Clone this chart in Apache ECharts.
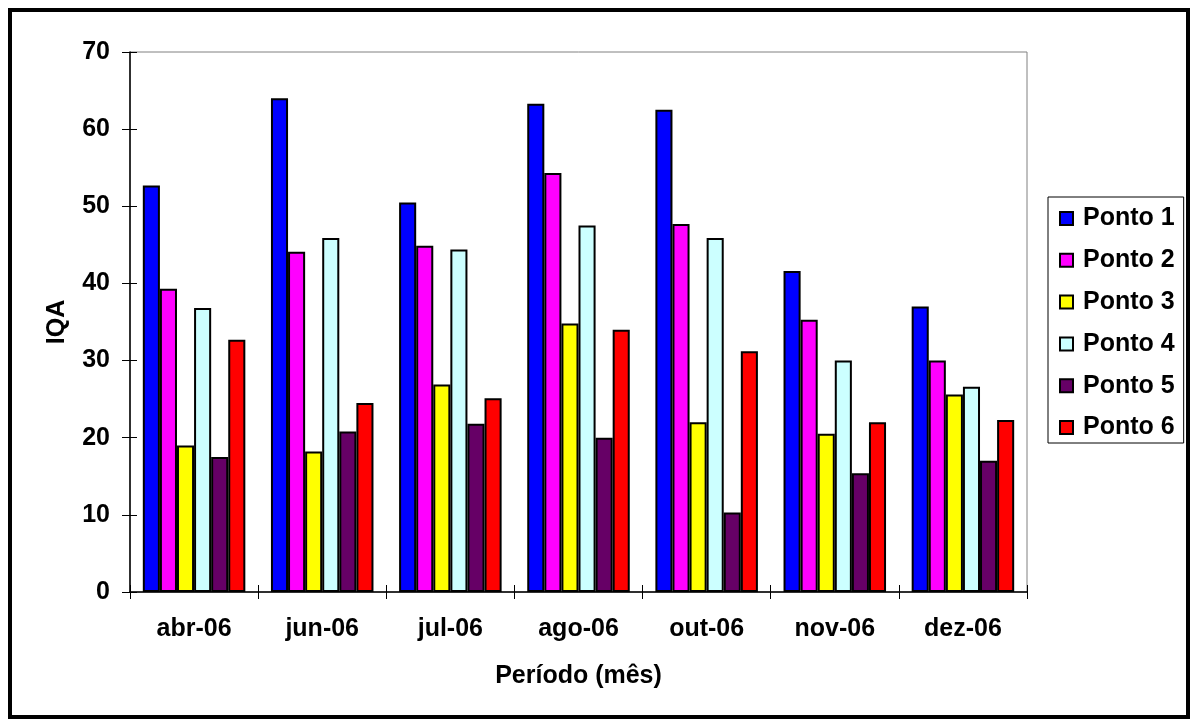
<!DOCTYPE html>
<html>
<head>
<meta charset="utf-8">
<script src="https://cdn.jsdelivr.net/npm/echarts@6/dist/echarts.min.js"></script>
<style>html,body{margin:0;padding:0;background:#fff}#c{width:1191px;height:720px}</style>
</head>
<body>
<div id="c"></div>
<script>
const categories = ['abr-06', 'jun-06', 'jul-06', 'ago-06', 'out-06', 'nov-06', 'dez-06'];
const seriesNames = ['Ponto 1', 'Ponto 2', 'Ponto 3', 'Ponto 4', 'Ponto 5', 'Ponto 6'];
const ponto1 = [52.7, 64.0, 50.5, 63.3, 62.5, 41.6, 37.0];
const ponto2 = [39.3, 44.1, 44.9, 54.3, 47.7, 35.3, 30.0];
const ponto3 = [19.0, 18.2, 26.9, 34.8, 22.0, 20.5, 25.6];
const ponto4 = [36.8, 45.9, 44.4, 47.5, 45.9, 30.0, 26.6];
const ponto5 = [17.5, 20.8, 21.8, 20.0, 10.3, 15.4, 17.0];
const ponto6 = [32.7, 24.5, 25.1, 34.0, 31.2, 22.0, 22.3];
const colors = ['#0000FF', '#FF00FF', '#FFFF00', '#CCFFFF', '#660066', '#FF0000'];
const allData = [ponto1, ponto2, ponto3, ponto4, ponto5, ponto6];

const font = 'Liberation Sans, Arial, sans-serif';
const chart = echarts.init(document.getElementById('c'), null, {renderer: 'canvas'});
chart.setOption({
  animation: false,
  backgroundColor: '#fff',
  textStyle: {fontFamily: font},
  grid: {left: 130, right: 164, top: 52, bottom: 128, show: true, borderColor: '#808080', borderWidth: 1, backgroundColor: 'transparent', containLabel: false},
  legend: {
    orient: 'vertical', left: 1048, top: 197,
    data: seriesNames,
    icon: 'rect', itemWidth: 13, itemHeight: 13, itemGap: 16.8,
    borderColor: '#000', borderWidth: 1, padding: [9, 9, 3, 11],
    backgroundColor: '#fff',
    textStyle: {fontFamily: font, fontWeight: 'bold', fontSize: 25, color: '#000', lineHeight: 25, padding: [0, 0, 0, 5]}
  },
  xAxis: [{
    type: 'category', data: categories,
    name: 'Período (mês)', nameLocation: 'middle', nameGap: 72,
    nameTextStyle: {fontFamily: font, fontWeight: 'bold', fontSize: 25, color: '#000'},
    axisLine: {lineStyle: {color: '#000', width: 1.5}},
    axisTick: {show: true, length: 7, lineStyle: {color: '#000'}},
    axisLabel: {fontFamily: font, fontWeight: 'bold', fontSize: 25, color: '#000', margin: 25}
  }, {
    type: 'category', data: categories, position: 'bottom',
    axisLine: {show: false}, axisLabel: {show: false},
    axisTick: {show: true, inside: true, length: 7, lineStyle: {color: '#000'}}
  }],
  yAxis: [{
    type: 'value', min: 0, max: 70, interval: 10,
    name: 'IQA', nameLocation: 'middle', nameGap: 60,
    nameTextStyle: {fontFamily: font, fontWeight: 'bold', fontSize: 25, color: '#000'},
    axisLine: {show: true, lineStyle: {color: '#000', width: 1.5}},
    axisTick: {show: true, length: 8, lineStyle: {color: '#000'}},
    splitLine: {show: false},
    axisLabel: {fontFamily: font, fontWeight: 'bold', fontSize: 25, color: '#000', margin: 20}
  }, {
    type: 'value', min: 0, max: 70, interval: 10, position: 'left',
    axisLine: {show: false}, axisLabel: {show: false}, splitLine: {show: false},
    axisTick: {show: true, inside: true, length: 7, lineStyle: {color: '#000'}}
  }],
  series: seriesNames.map((n, i) => ({
    name: n, type: 'bar', data: allData[i], xAxisIndex: 0, yAxisIndex: 0,
    barGap: '0%', barCategoryGap: '20%',
    itemStyle: {color: colors[i], borderColor: '#000', borderWidth: 2}
  })),
  graphic: [{
    type: 'rect', shape: {x: 10, y: 10, width: 1178, height: 707},
    style: {fill: 'none', stroke: '#000', lineWidth: 4}, silent: true, z: 100
  }]
});
</script>
</body>
</html>
